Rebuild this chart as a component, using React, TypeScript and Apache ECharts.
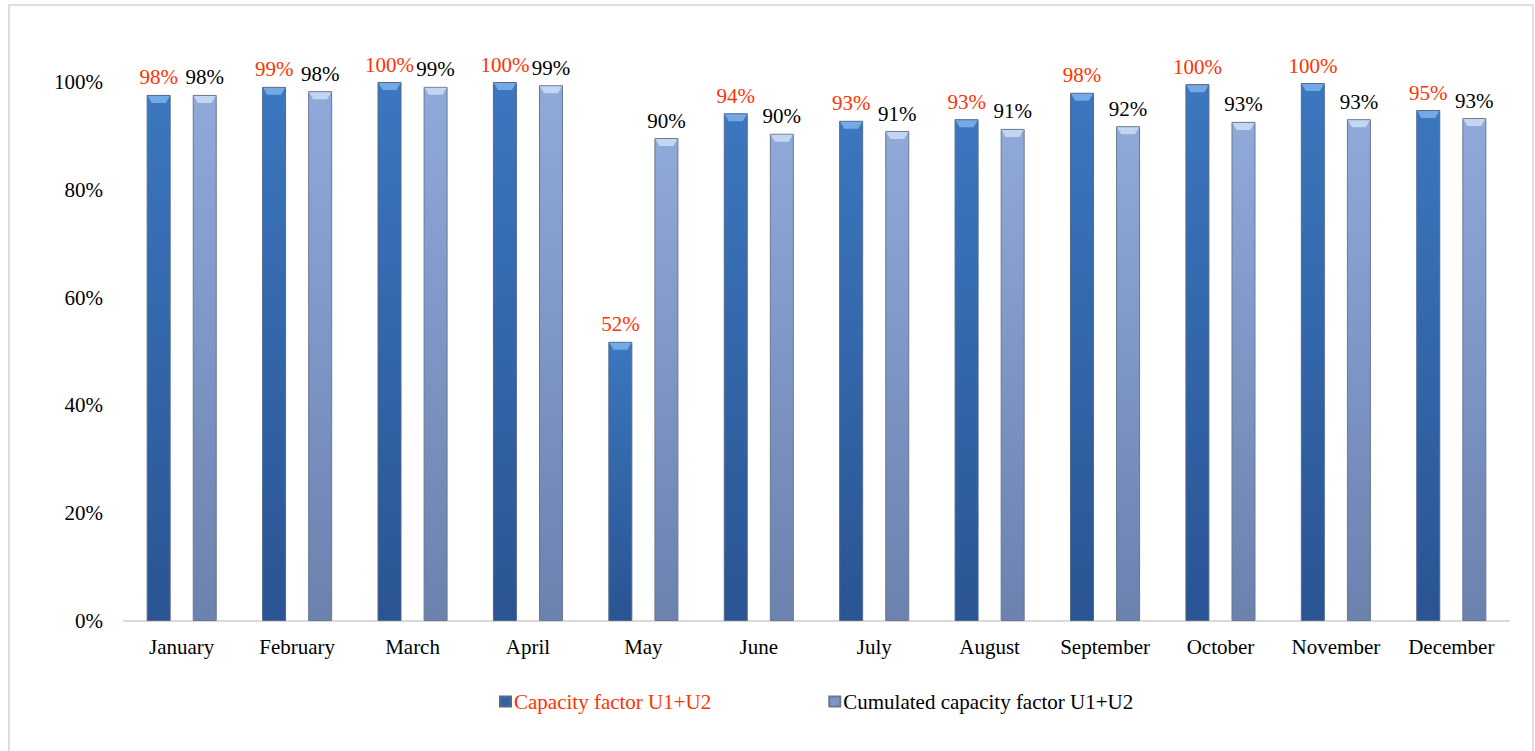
import React, { useEffect, useRef } from "react";
import * as echarts from "echarts";

const months = ["January", "February", "March", "April", "May", "June", "July", "August", "September", "October", "November", "December"];
const capacityFactor = [97.6, 99.1, 100.0, 100.0, 51.8, 94.2, 92.8, 93.1, 98.0, 99.6, 99.8, 94.8];
const cumulatedFactor = [97.6, 98.3, 99.1, 99.4, 89.6, 90.4, 90.9, 91.3, 91.8, 92.6, 93.1, 93.3];
const yTicks = [0, 20, 40, 60, 80, 100];
const seriesNames = ["Capacity factor U1+U2", "Cumulated capacity factor U1+U2"];

const FONT_NAME = "Liberation Serif";
const FONT = "'Liberation Serif', 'Times New Roman', serif";
const FS = 21;
const BAR_W = 24;
const HALF_SPACING = 23;

export default function App() {
  const ref = useRef<HTMLDivElement>(null);
  useEffect(() => {
    if (!ref.current) return;
    const chart = echarts.init(ref.current, null, { renderer: "svg" });
    const darkGrad = new echarts.graphic.LinearGradient(0, 0, 0, 1, [
      { offset: 0, color: "#3b77bf" },
      { offset: 1, color: "#2a5493" },
    ]);
    const lightGrad = new echarts.graphic.LinearGradient(0, 0, 0, 1, [
      { offset: 0, color: "#8fa9d9" },
      { offset: 1, color: "#6b81ae" },
    ]);
    const topSeries = (name: string, values: number[], sign: number, bevelColor: string, textColor: string) => ({
      name,
      type: "custom",
      silent: true,
      z: 5,
      data: values.map((v, i) => [i, v]),
      renderItem: (_params: any, api: any) => {
        const v = api.value(1);
        const p = api.coord([api.value(0), v]);
        const cx = p[0] + sign * HALF_SPACING;
        const y = p[1] + 1;
        const hw = BAR_W / 2 - 1;
        return {
          type: "group",
          children: [
            {
              type: "polygon",
              shape: {
                points: [
                  [cx - hw, y],
                  [cx + hw, y],
                  [cx + hw - 4, y + 7],
                  [cx - hw + 4, y + 7],
                ],
              },
              style: { fill: bevelColor, opacity: 0.9 },
            },
            {
              type: "text",
              style: {
                text: Math.round(v) + "%",
                x: cx,
                y: p[1] - 7,
                align: "center",
                verticalAlign: "bottom",
                fontFamily: FONT_NAME,
                fontSize: FS,
                fill: textColor,
              },
            },
          ],
        };
      },
    });
    chart.setOption({
      animation: false,
      backgroundColor: "#ffffff",
      textStyle: { fontFamily: FONT },
      graphic: [
        {
          type: "rect",
          shape: { x: 9, y: 5, width: 1524, height: 780 },
          style: { fill: "none", stroke: "#dedede", lineWidth: 2 },
          silent: true,
        },
      ],
      grid: { left: 124, right: 26, top: 82, bottom: 130, containLabel: false },
      legend: {
        bottom: 34,
        left: 494,
        itemWidth: 11,
        itemHeight: 10,
        itemGap: 117,
        textStyle: { fontFamily: FONT, fontSize: FS, padding: [0, 0, 0, -2] },
        data: [
          { name: seriesNames[0], icon: "rect", itemStyle: { color: "#2f63a3" }, textStyle: { color: "#ff3300" } },
          { name: seriesNames[1], icon: "rect", itemStyle: { color: "#7e96c4" }, textStyle: { color: "#000000" } },
        ],
      },
      xAxis: {
        type: "category",
        data: months,
        axisLine: { show: true, lineStyle: { color: "#d9d9d9", width: 2 } },
        axisTick: { show: false },
        axisLabel: { color: "#000", fontFamily: FONT, fontSize: FS, margin: 15, interval: 0 },
      },
      yAxis: {
        type: "value",
        min: 0,
        max: 100,
        interval: 20,
        splitLine: { show: false },
        axisLine: { show: false },
        axisTick: { show: false },
        axisLabel: {
          color: "#000",
          fontFamily: FONT,
          fontSize: FS,
          margin: 21,
          formatter: (v: number) => (yTicks.includes(v) ? v + "%" : ""),
        },
      },
      series: [
        {
          name: seriesNames[0],
          type: "bar",
          data: capacityFactor,
          barWidth: BAR_W,
          barGap: "92%",
          itemStyle: { color: darkGrad, borderColor: "#55698a", borderWidth: 1 },
        },
        {
          name: seriesNames[1],
          type: "bar",
          data: cumulatedFactor,
          barWidth: BAR_W,
          itemStyle: { color: lightGrad, borderColor: "#6a788f", borderWidth: 1 },
        },
        topSeries("top1", capacityFactor, -1, "#7aaee8", "#ff3300"),
        topSeries("top2", cumulatedFactor, 1, "#c8d9f4", "#000000"),
      ],
    });
    return () => chart.dispose();
  }, []);
  return <div ref={ref} style={{ position: "fixed", left: 0, top: 0, width: 1535, height: 751 }} />;
}
